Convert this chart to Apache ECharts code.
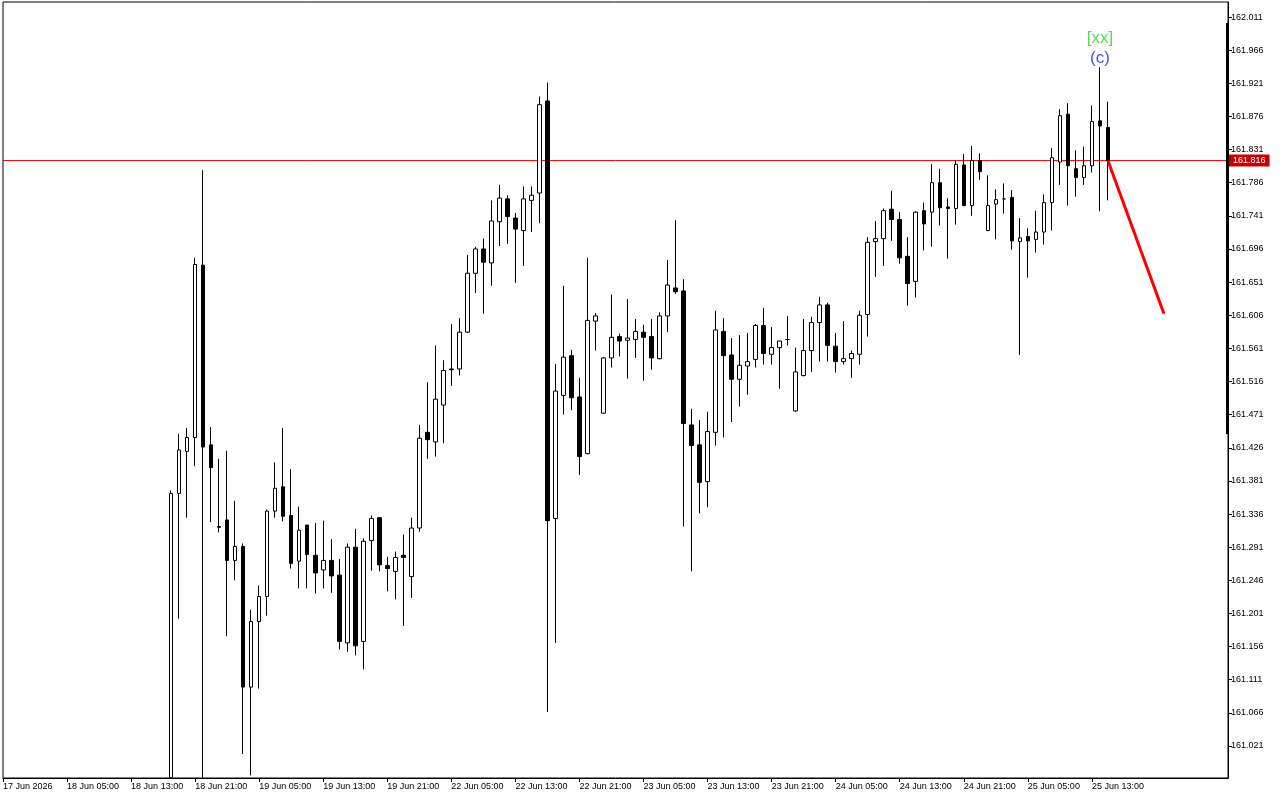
<!DOCTYPE html>
<html>
<head>
<meta charset="utf-8">
<script src="https://cdn.jsdelivr.net/npm/echarts@6/dist/echarts.min.js"></script>
<style>
html,body{margin:0;padding:0;background:#fff;}
#chart{width:1280px;height:800px;}
</style>
</head>
<body>
<div id="chart"></div>
<script>
// ---- data ----
const days = ['17 Jun','18 Jun','19 Jun','22 Jun','23 Jun','24 Jun','25 Jun','26 Jun'];
const firstHour = 21;           // first category: 17 Jun 21:00
const totalBars = 154;
const firstLabel = '17 Jun 2026';
const firstBar = 21;            // index of first candle (18 Jun 18:00)

// values below the visible window are shown at the window's lower edge
const opens = [160.978,161.364,161.421,161.440,161.674,161.430,161.319,161.328,161.273,161.292,
161.101,161.190,161.224,161.340,161.373,161.334,161.272,161.321,161.280,161.260,
161.273,161.253,161.161,161.291,161.163,161.300,161.331,161.266,161.258,161.280,
161.251,161.317,161.447,161.434,161.484,161.533,161.533,161.583,161.663,161.696,
161.677,161.733,161.764,161.738,161.721,161.762,161.772,161.897,161.330,161.497,
161.551,161.495,161.418,161.598,161.473,161.548,161.577,161.572,161.573,161.583,
161.577,161.547,161.605,161.643,161.639,161.457,161.430,161.380,161.447,161.584,
161.552,161.519,161.537,161.546,161.592,161.553,161.562,161.573,161.476,161.524,
161.558,161.596,161.620,161.564,161.543,161.547,161.553,161.607,161.706,161.710,
161.750,161.736,161.686,161.652,161.748,161.746,161.786,161.753,161.751,161.810,
161.755,161.816,161.721,161.757,161.764,161.766,161.706,161.713,161.709,161.719,
161.759,161.814,161.879,161.805,161.793,161.809,161.870,161.861];
const highs = [161.368,161.445,161.453,161.684,161.803,161.454,161.411,161.422,161.354,161.296,
161.206,161.239,161.342,161.406,161.453,161.397,161.346,161.321,161.324,161.327,
161.302,161.275,161.296,161.316,161.303,161.334,161.331,161.278,161.285,161.308,
161.331,161.457,161.515,161.565,161.545,161.594,161.602,161.688,161.699,161.710,
161.762,161.783,161.769,161.745,161.781,161.781,161.903,161.922,161.540,161.646,
161.559,161.521,161.684,161.609,161.549,161.634,161.581,161.628,161.601,161.593,
161.601,161.610,161.681,161.735,161.655,161.479,161.464,161.475,161.612,161.602,
161.575,161.579,161.582,161.594,161.616,161.590,161.571,161.605,161.562,161.601,
161.604,161.631,161.623,161.582,161.598,161.558,161.612,161.712,161.734,161.751,
161.775,161.746,161.712,161.747,161.759,161.811,161.805,161.765,161.816,161.825,
161.836,161.826,161.796,161.777,161.785,161.776,161.738,161.724,161.748,161.770,
161.833,161.886,161.894,161.830,161.835,161.891,161.943,161.896];
const lows = [160.978,161.194,161.331,161.401,160.978,161.325,161.311,161.170,161.246,161.010,
160.981,161.099,161.198,161.331,161.326,161.262,161.235,161.235,161.228,161.235,
161.229,161.152,161.149,161.144,161.125,161.259,161.258,161.231,161.220,161.184,
161.222,161.312,161.411,161.414,161.432,161.510,161.524,161.582,161.636,161.608,
161.646,161.700,161.703,161.650,161.673,161.719,161.731,161.067,161.161,161.471,
161.477,161.389,161.417,161.558,161.472,161.535,161.550,161.520,161.548,161.517,
161.532,161.546,161.583,161.635,161.319,161.258,161.337,161.345,161.429,161.440,
161.461,161.482,161.498,161.535,161.539,161.539,161.506,161.565,161.475,161.523,
161.529,161.543,161.543,161.528,161.539,161.521,161.539,161.577,161.658,161.673,
161.707,161.676,161.619,161.630,161.694,161.699,161.728,161.683,161.729,161.754,
161.741,161.790,161.720,161.709,161.744,161.695,161.552,161.657,161.691,161.702,
161.721,161.783,161.755,161.767,161.783,161.800,161.747,161.762];
const closes = [161.364,161.423,161.440,161.675,161.427,161.399,161.318,161.273,161.292,161.101,
161.190,161.224,161.340,161.371,161.333,161.269,161.314,161.281,161.256,161.273,
161.252,161.163,161.291,161.157,161.299,161.330,161.267,161.262,161.277,161.277,
161.317,161.439,161.437,161.492,161.531,161.532,161.583,161.663,161.696,161.678,
161.734,161.765,161.740,161.723,161.764,161.769,161.892,161.327,161.503,161.549,
161.494,161.414,161.599,161.605,161.548,161.576,161.571,161.575,161.584,161.576,
161.548,161.605,161.647,161.638,161.459,161.429,161.379,161.448,161.586,161.551,
161.519,161.538,161.543,161.592,161.554,161.562,161.571,161.573,161.529,161.558,
161.596,161.620,161.565,161.543,161.547,161.554,161.606,161.705,161.710,161.748,
161.736,161.684,161.649,161.746,161.730,161.786,161.752,161.751,161.811,161.755,
161.816,161.801,161.755,161.763,161.764,161.707,161.711,161.707,161.719,161.759,
161.820,161.877,161.809,161.793,161.809,161.869,161.863,161.816];

const yTicks = [161.021,161.066,161.111,161.156,161.201,161.246,161.291,161.336,161.381,161.426,
161.471,161.516,161.561,161.606,161.651,161.696,161.741,161.786,161.831,161.876,161.921,161.966,162.011];
const yMin = 160.9775, yMax = 162.0314;

const currentPrice = 161.816;
const forecastBars = ['25 Jun 15:00','25 Jun 22:00'];
const forecastValues = [161.816, 161.608];

const waveBar = '25 Jun 14:00';
const waveHigh = 161.943;
const waveLabels = ['[xx]','(c)'];

// ---- build ----
const categories = [];
for (let d = 0; d < days.length && categories.length < totalBars; d++) {
  for (let h = (d === 0 ? firstHour : 0); h < 24 && categories.length < totalBars; h++) {
    categories.push(days[d] + ' ' + String(h).padStart(2,'0') + ':00');
  }
}
const lastDataIndex = firstBar + opens.length - 1;
const candleData = categories.map((c, i) => {
  const j = i - firstBar;
  if (j < 0 || j >= opens.length) return '-';
  return [opens[j], closes[j], lows[j], highs[j]];
});
const showLabel = (i) => i % 8 === 0 && i <= lastDataIndex;
const FONT = 'Liberation Sans, Arial, sans-serif';

const chart = echarts.init(document.getElementById('chart'), null, {renderer:'canvas'});
chart.setOption({
  animation: false,
  backgroundColor: '#ffffff',
  grid: {left: 2, top: 2, right: 52, bottom: 22, show: true, borderColor: '#000', borderWidth: 1, backgroundColor: '#fff'},
  xAxis: {
    type: 'category',
    data: categories,
    boundaryGap: false,
    axisLine: {show: true, lineStyle: {color: '#000', width: 1}},
    axisTick: {show: true, length: 4, lineStyle: {color: '#000'}, interval: (i) => showLabel(i)},
    axisLabel: {
      show: true, interval: (i) => showLabel(i), align: 'left', margin: 4,
      color: '#000', fontSize: 9, fontFamily: FONT,
      formatter: (v, i) => i === 0 ? firstLabel : v
    },
    splitLine: {show: false}
  },
  yAxis: {
    type: 'value', position: 'right', min: yMin, max: yMax, scale: true,
    axisLine: {show: true, lineStyle: {color: '#000', width: 1}},
    axisTick: {show: true, length: 4, lineStyle: {color: '#000'}, customValues: yTicks},
    axisLabel: {show: true, margin: 3, color: '#000', fontSize: 9, fontFamily: FONT,
      customValues: yTicks, formatter: (v) => v.toFixed(3)},
    splitLine: {show: false}
  },
  graphic: [{
    type: 'rect', shape: {x: 1226, y: 23, width: 3, height: 411},
    style: {fill: '#000'}, silent: true, z: 100
  }],
  series: [
    {
      type: 'candlestick',
      data: candleData,
      barWidth: 4,
      clip: true,
      itemStyle: {color: '#ffffff', color0: '#000000', borderColor: '#000000', borderColor0: '#000000', borderWidth: 1},
      z: 2
    },
    {
      // current price line
      type: 'line',
      data: [[categories[0], currentPrice], [categories[categories.length - 1], currentPrice]],
      symbol: 'none',
      silent: true,
      color: '#e00000',
      lineStyle: {color: '#e00000', width: 1},
      endLabel: {show: true, distance: 1, formatter: currentPrice.toFixed(3),
        color: '#fff', backgroundColor: '#c80000', padding: [2,4,1,4], fontSize: 9, fontFamily: FONT},
      z: 1
    },
    {
      type: 'line',
      data: forecastBars.map((b, i) => [b, forecastValues[i]]),
      symbol: 'none',
      color: '#ff0000',
      lineStyle: {color: '#ff0000', width: 3},
      z: 5,
      silent: true
    },
    {
      type: 'scatter',
      symbolSize: 0,
      silent: true,
      z: 6,
      data: [
        {value: [waveBar, waveHigh], label: {show: true, formatter: waveLabels[0], position: 'top', distance: 0, offset: [0, -20], color: '#33cc33', fontSize: 17, fontFamily: FONT}},
        {value: [waveBar, waveHigh], label: {show: true, formatter: waveLabels[1], position: 'top', distance: 0, color: '#2020ff', fontSize: 17, fontFamily: FONT}}
      ]
    }
  ]
});
</script>
</body>
</html>
